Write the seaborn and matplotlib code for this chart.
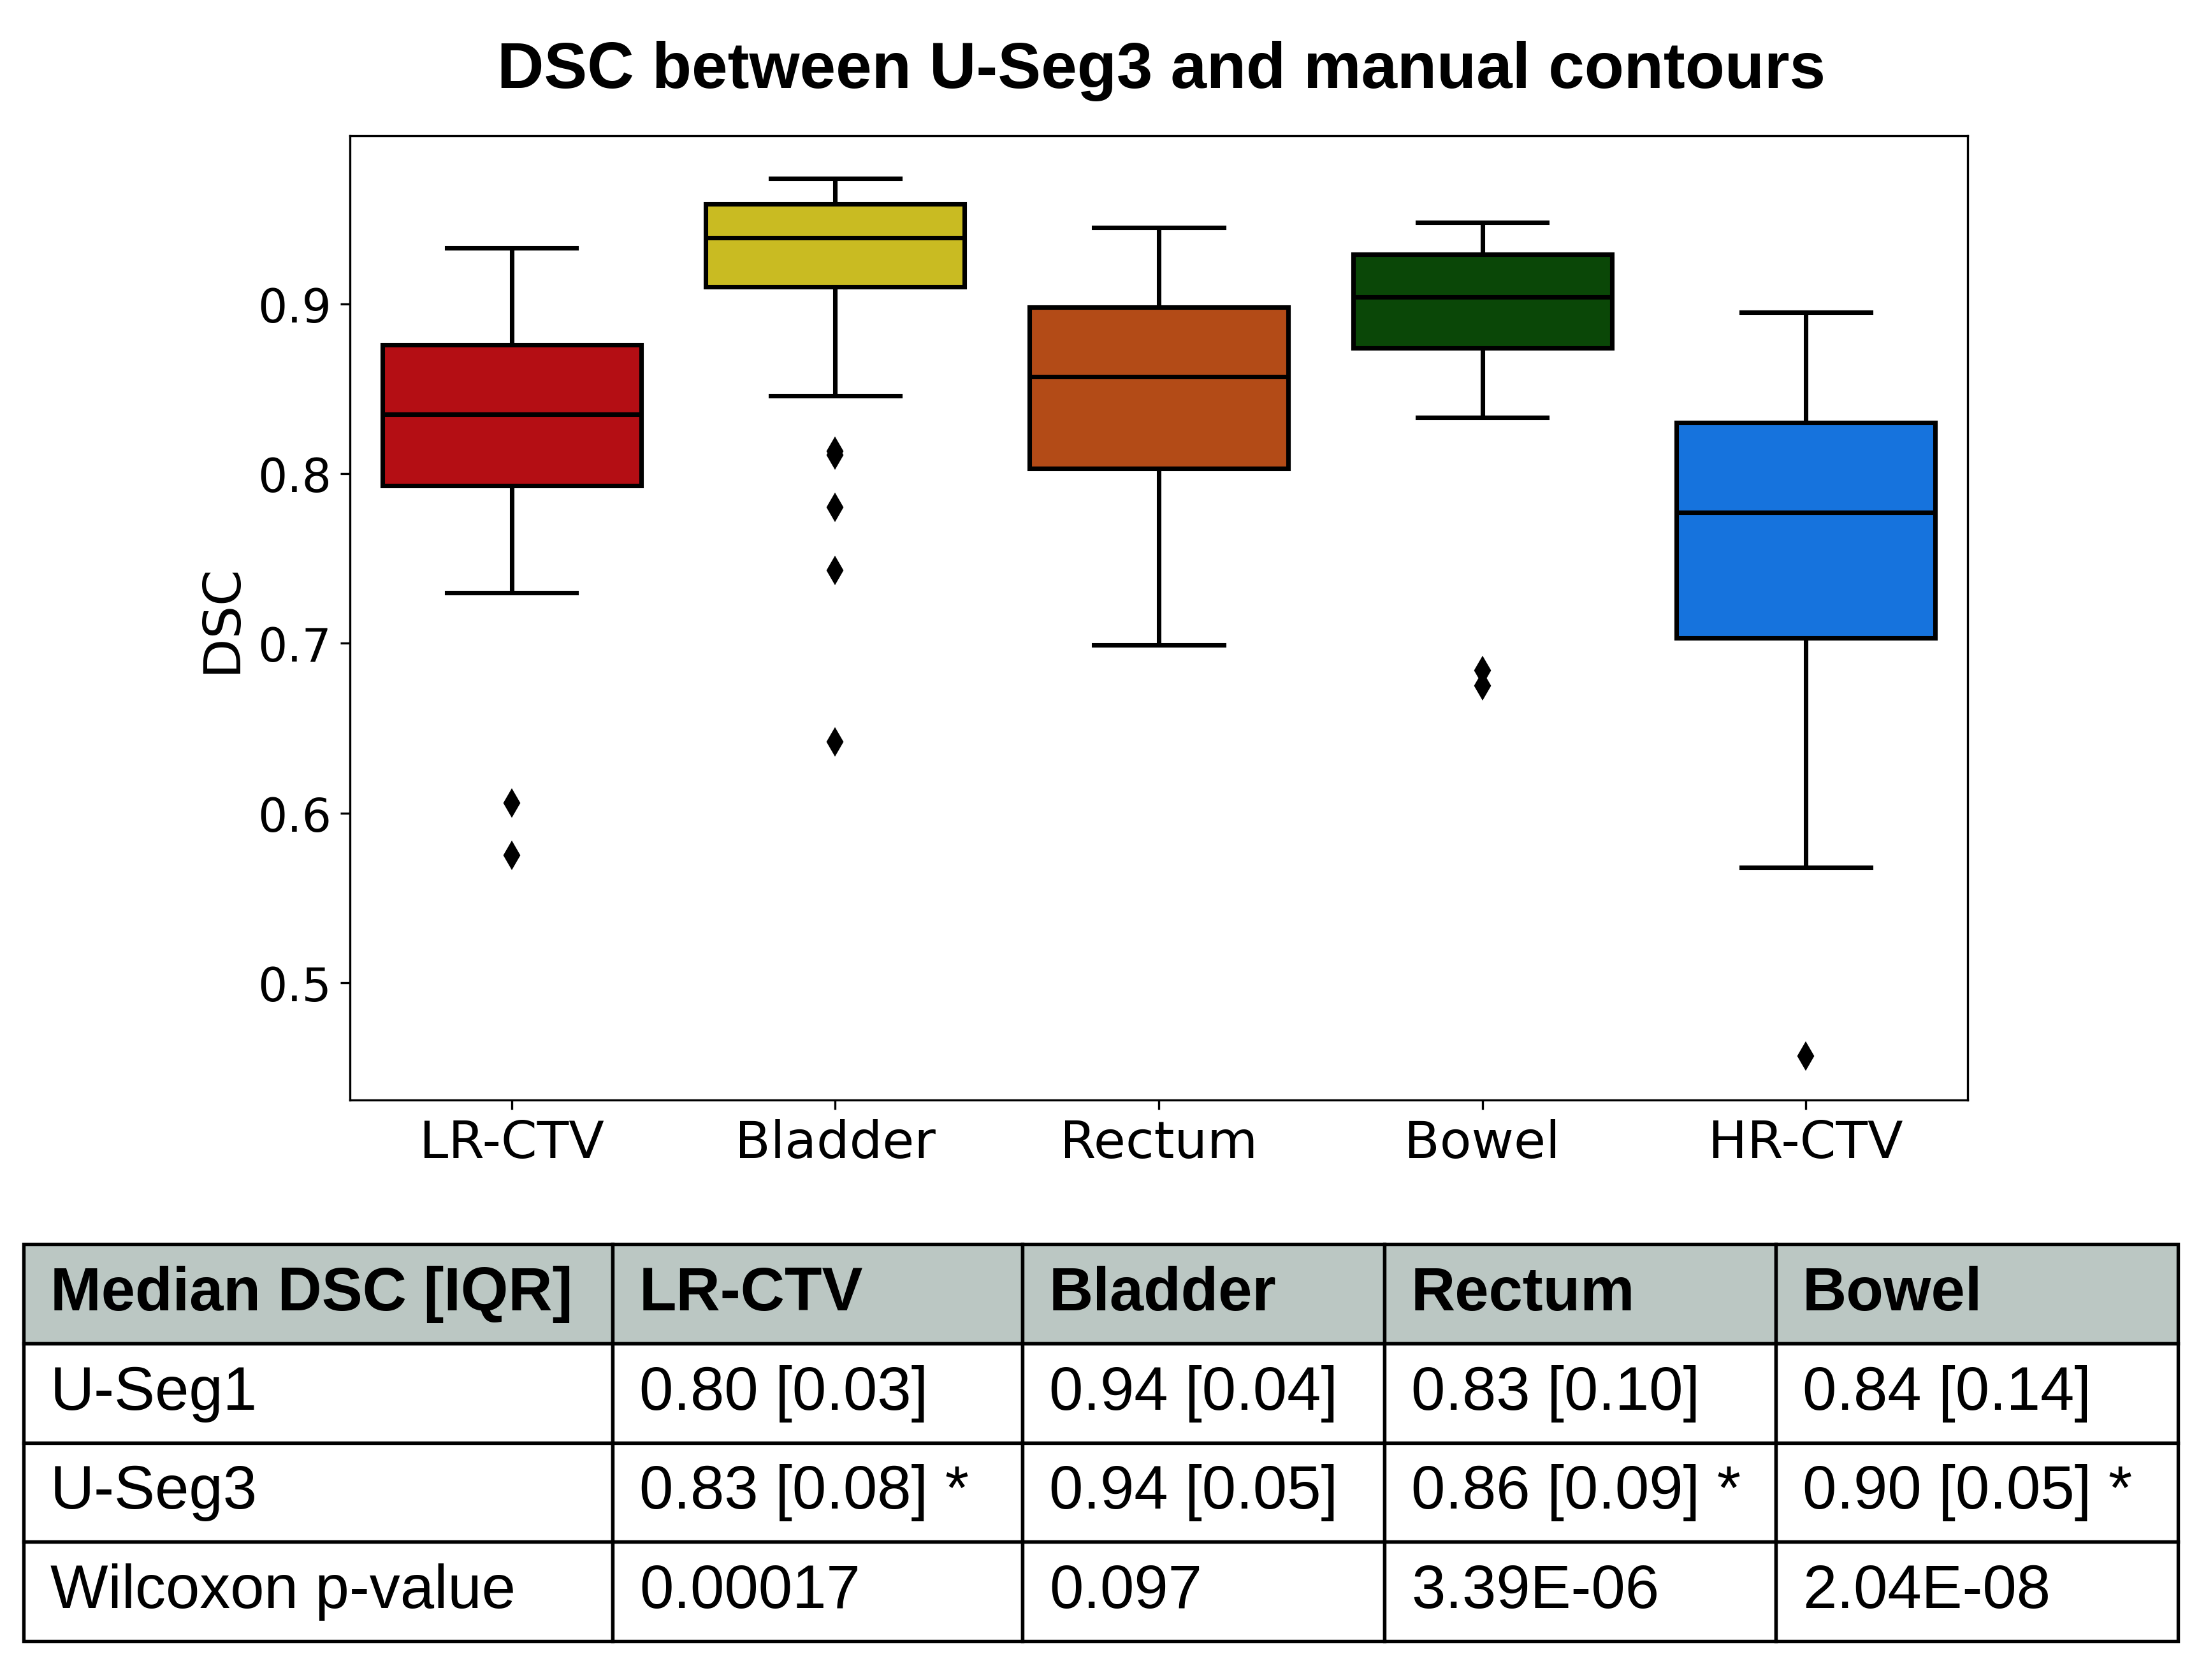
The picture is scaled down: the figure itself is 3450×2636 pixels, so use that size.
import matplotlib
matplotlib.use("Agg")
import matplotlib.pyplot as plt
import seaborn as sns
import pandas as pd

# structures shown in the boxplot and their box colours
structures = ["LR-CTV", "Bladder", "Rectum", "Bowel", "HR-CTV"]
box_colors = ["#B40E14", "#C9BB22", "#B34B17", "#0A4707", "#1673DD"]

dsc_lr_ctv = [0.575, 0.606, 0.730, 0.793, 0.805, 0.820, 0.835, 0.848, 0.862,
              0.876, 0.895, 0.915, 0.933]
dsc_bladder = [0.642, 0.743, 0.780, 0.811, 0.813, 0.846, 0.910, 0.915, 0.920,
               0.925, 0.930, 0.935, 0.939, 0.942, 0.946, 0.950, 0.953, 0.956,
               0.959, 0.962, 0.965, 0.967, 0.969, 0.971, 0.974]
dsc_rectum = [0.699, 0.803, 0.857, 0.898, 0.945]
dsc_bowel = [0.675, 0.684, 0.833, 0.874, 0.885, 0.895, 0.904, 0.912, 0.920,
             0.929, 0.935, 0.942, 0.948]
dsc_hr_ctv = [0.457, 0.568, 0.703, 0.740, 0.777, 0.800, 0.830, 0.860, 0.895]

# table underneath
table_header = ["Median DSC [IQR]", "LR-CTV", "Bladder", "Rectum", "Bowel"]
row_labels = ["U-Seg1", "U-Seg3", "Wilcoxon p-value"]
useg1_vals = ["0.80 [0.03]", "0.94 [0.04]", "0.83 [0.10]", "0.84 [0.14]"]
useg3_vals = ["0.83 [0.08] *", "0.94 [0.05]", "0.86 [0.09] *", "0.90 [0.05] *"]
pvalues = ["0.00017", "0.097", "3.39E-06", "2.04E-08"]

groups = [dsc_lr_ctv, dsc_bladder, dsc_rectum, dsc_bowel, dsc_hr_ctv]
df = pd.DataFrame({
    "structure": [s for s, g in zip(structures, groups) for _ in g],
    "DSC": [v for g in groups for v in g],
})

W, H = 3450, 2637
fig = plt.figure(figsize=(W / 300, H / 300), dpi=300)

ax = fig.add_axes([549 / W, 1 - 1727 / H, (3087 - 549) / W, (1727 - 214) / H])
sns.boxplot(data=df, x="structure", y="DSC", hue="structure",
            order=structures, hue_order=structures, palette=box_colors,
            saturation=1, width=0.8, linewidth=1.7, linecolor="black",
            fliersize=6.5, legend=False, ax=ax,
            flierprops=dict(marker="d", markerfacecolor="black",
                            markeredgecolor="black"))
ax.set_ylim(0.431, 0.999)
ax.set_yticks([0.5, 0.6, 0.7, 0.8, 0.9])
ax.set_xlabel("")
ax.set_ylabel("DSC", fontsize=19.5)
ax.tick_params(axis="x", labelsize=19.5)
ax.tick_params(axis="y", labelsize=17.5)

fig.text(1822 / W, 1 - 138 / H, "DSC between U-Seg3 and manual contours",
         ha="center", va="baseline", fontsize=24.4, fontweight="bold",
         family="Liberation Sans")

# results table
col_px = [924, 643, 568, 614, 631]
tax = fig.add_axes([37 / W, 1 - 2576 / H, 3380 / W, (2576 - 1953) / H])
tax.axis("off")
cell_text = [[row_labels[0]] + useg1_vals,
             [row_labels[1]] + useg3_vals,
             [row_labels[2]] + pvalues]
tab = tax.table(cellText=cell_text, colLabels=table_header,
                colWidths=[c / sum(col_px) for c in col_px],
                cellLoc="left", colLoc="left", bbox=[0, 0, 1, 1])
tab.auto_set_font_size(False)
for (r, c), cell in tab.get_celld().items():
    cell.set_linewidth(1.3)
    cell.set_edgecolor("black")
    cell.PAD = 42 / col_px[c]
    txt = cell.get_text()
    txt.set_fontsize(23)
    txt.set_fontfamily("Liberation Sans")
    if r == 0:
        cell.set_facecolor("#BBC7C3")
        txt.set_fontweight("bold")

fig.savefig("out.png", dpi=300)
